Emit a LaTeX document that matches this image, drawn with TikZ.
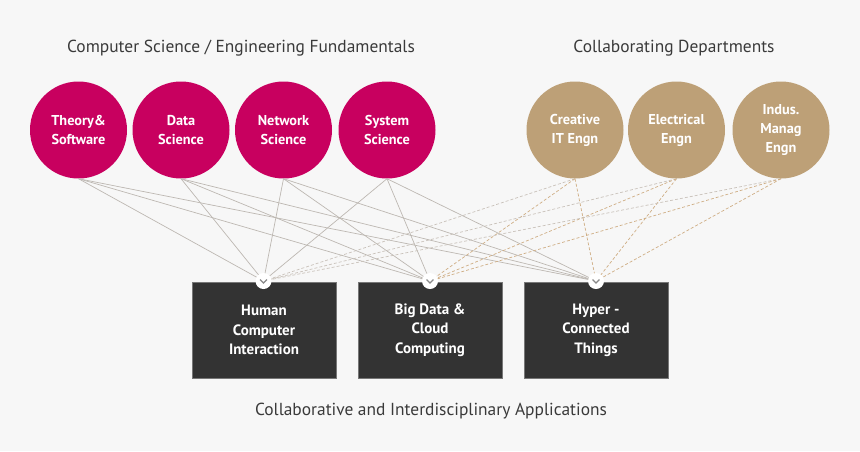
\documentclass[tikz,border=0pt]{standalone}
\usepackage{fontspec}
\setmainfont{PT Sans}
\begin{document}
\begin{tikzpicture}[x=1pt,y=-1pt,
  bgfill/.style={fill=bgc,draw=none},
  csnode/.style={circle,fill=mag,draw=none,minimum size=97pt,inner sep=0pt,text=white,font=\fontsize{14.3}{19}\selectfont\bfseries,align=center},
  depnode/.style={circle,fill=tan,draw=none,minimum size=97pt,inner sep=0pt,text=white,font=\fontsize{14.3}{19}\selectfont\bfseries,align=center},
  appbox/.style={rectangle,fill=boxc,draw=boxe,line width=0.8pt,minimum width=144pt,minimum height=96pt,inner sep=0pt,text=white,font=\fontsize{15}{19.5}\selectfont\bfseries,align=center},
  heading/.style={text=headc,font=\fontsize{17.4}{20}\selectfont},
  marker/.style={circle,fill=white,draw=none,minimum size=16pt,inner sep=0pt},
  csline/.style={draw=linec,line width=0.7pt},
  depline/.style={draw=dashc,line width=0.7pt,dash pattern=on 3pt off 2pt},
  depline2/.style={draw=dashg,line width=0.7pt,dash pattern=on 3pt off 2pt},
  chev/.style={draw=chevc,line width=1.2pt}
]
\definecolor{bgc}{HTML}{F7F7F7}
\definecolor{mag}{HTML}{C8005F}
\definecolor{tan}{HTML}{BDA077}
\definecolor{boxc}{HTML}{333333}
\definecolor{boxe}{HTML}{777777}
\definecolor{headc}{HTML}{3A3A3A}
\definecolor{linec}{HTML}{BDB8B2}
\definecolor{dashc}{HTML}{CFAE85}
\definecolor{dashg}{HTML}{C9C2BA}
\definecolor{chevc}{HTML}{888888}

\path[bgfill] (0,0) rectangle (860,451);
\useasboundingbox (0,0) rectangle (860,451);

\node[heading] (h1) at (241,48) {Computer Science / Engineering Fundamentals};
\node[heading] (h2) at (674,48) {Collaborating Departments};
\node[heading] (h3) at (431,411) {Collaborative and Interdisciplinary Applications};

\node[csnode] (c1) at (78.5,130) {Theory\&\\Software};
\node[csnode] (c2) at (181,130) {Data\\Science};
\node[csnode] (c3) at (283.5,130) {Network\\Science};
\node[csnode] (c4) at (387,130) {System\\Science};

\node[depnode] (d1) at (575,130) {Creative\\IT Engn};
\node[depnode] (d2) at (676.5,130) {Electrical\\Engn};
\node[depnode] (d3) at (781,130) {Indus.\\Manag\\Engn};

\node[appbox] (b1) at (264,330) {Human\\Computer\\Interaction};
\node[appbox] (b2) at (430,330) {Big Data \&\\Cloud\\Computing};
\node[appbox] (b3) at (596,330) {Hyper -\\Connected\\Things};

\coordinate (m1) at (263.5,281);
\coordinate (m2) at (430,281);
\coordinate (m3) at (596,281);

\foreach \c in {c1,c2,c3,c4}{
  \foreach \m in {m1,m2,m3}{
    \draw[csline] (\c.south) -- (\m);
  }
}
\foreach \d in {d1,d2,d3}{
  \draw[depline2] (\d.south) -- (m1);
  \draw[depline] (\d.south) -- (m2);
  \draw[depline] (\d.south) -- (m3);
}

\foreach \m [count=\i] in {m1,m2,m3}{
  \node[marker] (k\i) at (\m) {};
  \draw[chev] ([xshift=-3.5pt,yshift=1.5pt]k\i.center) -- ([yshift=-2pt]k\i.center) -- ([xshift=3.5pt,yshift=1.5pt]k\i.center);
}
\end{tikzpicture}
\end{document}
